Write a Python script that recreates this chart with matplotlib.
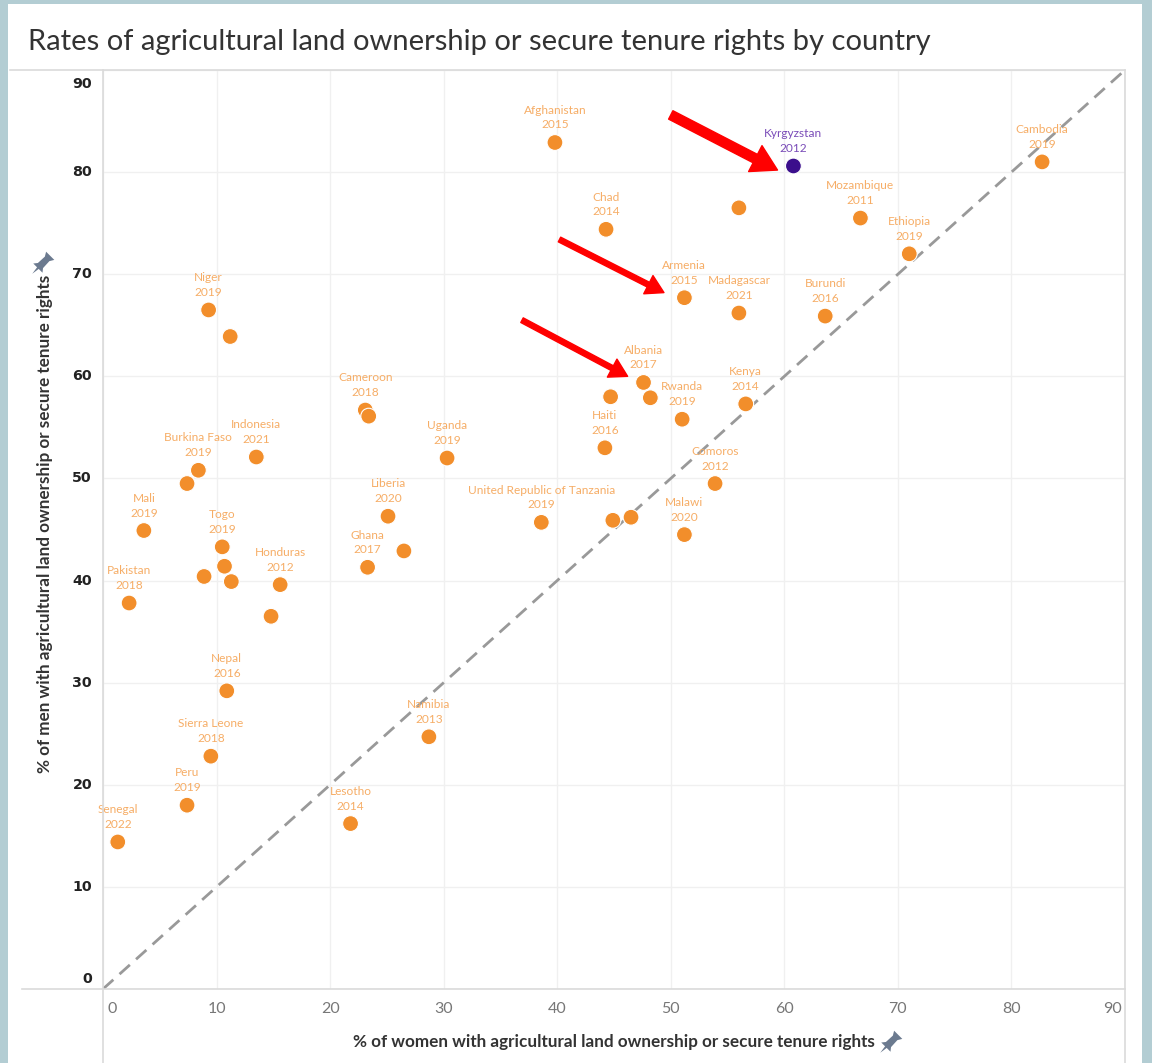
import matplotlib
matplotlib.use("Agg")
import numpy as np
import matplotlib.pyplot as plt
import matplotlib.transforms as mtransforms
from matplotlib.lines import Line2D
from matplotlib.patches import Rectangle, FancyArrowPatch

countries = ["Afghanistan", "Kyrgyzstan", "Cambodia", "Chad", "", "Mozambique",
             "Ethiopia", "Armenia", "Madagascar", "Burundi", "Niger", "",
             "Albania", "", "", "Rwanda", "Kenya", "Haiti", "Cameroon", "",
             "Uganda", "Indonesia", "Burkina Faso", "", "Comoros", "Liberia",
             "United Republic of Tanzania", "", "", "Malawi", "Mali", "Togo",
             "Ghana", "", "", "", "", "Honduras", "", "Pakistan", "Nepal",
             "Sierra Leone", "Peru", "Senegal", "Lesotho", "Namibia"]
years = ["2015", "2012", "2019", "2014", "", "2011",
         "2019", "2015", "2021", "2016", "2019", "",
         "2017", "", "", "2019", "2014", "2016", "2018", "",
         "2019", "2021", "2019", "", "2012", "2020",
         "2019", "", "", "2020", "2019", "2019",
         "2017", "", "", "", "", "2012", "", "2018", "2016",
         "2018", "2019", "2022", "2014", "2013"]
women = [39.8, 60.8, 82.7, 44.3, 56.0, 66.7,
         71.0, 51.2, 56.0, 63.6, 9.3, 11.2,
         47.6, 44.7, 48.2, 51.0, 56.6, 44.2, 23.1, 23.4,
         30.3, 13.5, 8.4, 7.4, 53.9, 25.1,
         38.6, 44.9, 46.5, 51.2, 3.6, 10.5,
         23.3, 26.5, 10.7, 8.9, 11.3, 15.6, 14.8, 2.3, 10.9,
         9.5, 7.4, 1.3, 21.8, 28.7]
men = [82.9, 80.6, 81.0, 74.4, 76.5, 75.5,
       72.0, 67.7, 66.2, 65.9, 66.5, 63.9,
       59.4, 58.0, 57.9, 55.8, 57.3, 53.0, 56.7, 56.1,
       52.0, 52.1, 50.8, 49.5, 49.5, 46.3,
       45.7, 45.9, 46.2, 44.5, 44.9, 43.3,
       41.3, 42.9, 41.4, 40.4, 39.9, 39.6, 36.5, 37.8, 29.2,
       22.8, 18.0, 14.4, 16.2, 24.7]
highlight = "Kyrgyzstan"
ticks = [0, 10, 20, 30, 40, 50, 60, 70, 80, 90]

W, H = 1152, 1063
fig = plt.figure(figsize=(W / 100, H / 100), dpi=100, facecolor="#b3cdd3")
fig.add_artist(Rectangle((8 / W, 0), (1142 - 8) / W, 1 - 4 / H,
                         transform=fig.transFigure, facecolor="white",
                         edgecolor="none", zorder=0))


def fx(px):
    return px / W


def fy(py):
    return 1 - py / H


# panel frame lines
frame_col = "#dadada"
for xs, ys in [((10, 1125), (70, 70)), ((22, 1125), (989, 989)),
               ((103, 103), (70, 1063)), ((1125, 1125), (70, 1063))]:
    fig.add_artist(Line2D([fx(xs[0]), fx(xs[1])], [fy(ys[0]), fy(ys[1])],
                          transform=fig.transFigure, color=frame_col, lw=1.2, zorder=1))

ax = fig.add_axes([fx(103), fy(989), fx(1125) - fx(103), fy(70) - fy(989)])
ax.set_facecolor("none")
ax.set_xlim(0, 90)
ax.set_ylim(0, 90)
for s in ax.spines.values():
    s.set_visible(False)
ax.set_xticks(ticks)
ax.set_yticks(ticks)
ax.tick_params(length=0, labelbottom=False, labelleft=False)
ax.grid(True, color="#f0f0f0", lw=1)
ax.set_axisbelow(True)

ax.plot([0, 90], [0, 90], color="#999999", lw=2, dashes=(5, 3), zorder=2)

colors = ["#3b0f8c" if c == highlight else "#f28e2b" for c in countries]
ax.scatter(women, men, s=130, c=colors, edgecolors="white", linewidths=0.8, zorder=3)

for c, yr, x, y in zip(countries, years, women, men):
    if not c:
        continue
    col = "#7a4cb8" if c == highlight else "#f6ad66"
    ax.annotate(c + "\n" + yr, (x, y), xytext=(0, 12), textcoords="offset pixels",
                ha="center", va="bottom", fontsize=8.6, family="Lato",
                color=col, linespacing=1.42, zorder=4)

# red arrows
arrows = [((50.0, 85.6), (59.4, 80.2), 20, 0.34),
          ((40.2, 73.4), (49.4, 68.2), 14, 0.27),
          ((36.9, 65.5), (46.2, 60.0), 14, 0.27)]
for tail, tip, ms, tw in arrows:
    ax.add_patch(FancyArrowPatch(tail, tip, arrowstyle=f"simple,head_length=0.9,head_width=1.05,tail_width={tw}",
                                 mutation_scale=ms, color="#ff0000", shrinkA=0, shrinkB=0, zorder=5))

# tick labels, Tableau style
for t in ticks:
    if t == 90:
        va, dy = "top", -7
    elif t == 0:
        va, dy = "bottom", 3
    else:
        va, dy = "center", 0
    tr = mtransforms.offset_copy(ax.get_yaxis_transform(), fig=fig, x=-11, y=dy, units="dots")
    ax.text(0, t, str(t), transform=tr, ha="right", va=va, fontsize=10.3,
            fontweight="bold", family="DejaVu Sans", color="#222222")
    if t == 0:
        ha, dx = "left", 4
    elif t == 90:
        ha, dx = "right", -3
    else:
        ha, dx = "center", 0
    tr = mtransforms.offset_copy(ax.get_xaxis_transform(), fig=fig, x=dx, y=-20, units="dots")
    ax.text(t, 0, str(t), transform=tr, ha=ha, va="center", fontsize=11.5,
            family="Lato", color="#777777")

fig.text(fx(28), fy(42), "Rates of agricultural land ownership or secure tenure rights by country",
         ha="left", va="center", fontsize=21, family="Lato", color="#333333")
fig.text(fx(614), fy(1042), "% of women with agricultural land ownership or secure tenure rights",
         ha="center", va="center", fontsize=12.3, fontweight="bold", family="Lato", color="#333333")
fig.text(fx(45), fy(524), "% of men with agricultural land ownership or secure tenure rights",
         ha="center", va="center", rotation=90, fontsize=12.3, fontweight="bold",
         family="Lato", color="#333333")

# little thumbtack icons next to the axis titles
pin = np.array([(0, -1), (0.08, -0.45), (0.45, -0.45), (0.25, -0.2), (0.22, 0.45),
                (0.4, 0.75), (-0.4, 0.75), (-0.22, 0.45), (-0.25, -0.2),
                (-0.45, -0.45), (-0.08, -0.45), (0, -1)])
a = np.deg2rad(-45)
rot = np.array([[np.cos(a), -np.sin(a)], [np.sin(a), np.cos(a)]])
pin = pin @ rot.T
for px, py in [(890, 1042), (42, 263)]:
    fig.add_artist(Line2D([fx(px)], [fy(py)], transform=fig.transFigure, marker=pin,
                          markersize=17, color="#6b7a8f", markeredgewidth=0, linestyle="none"))

fig.savefig("out.png", dpi=100, facecolor=fig.get_facecolor())
